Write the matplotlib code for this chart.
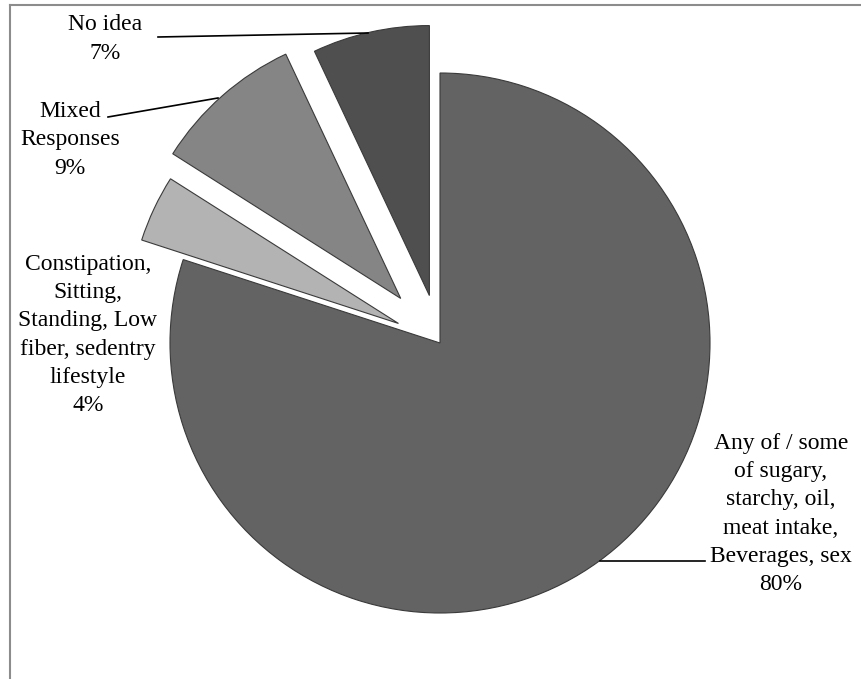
import matplotlib.pyplot as plt
from matplotlib.lines import Line2D

# data
labels = [
    "Any of / some\nof sugary,\nstarchy, oil,\nmeat intake,\nBeverages, sex\n80%",
    "Constipation,\nSitting,\nStanding, Low\nfiber, sedentry\nlifestyle\n4%",
    "Mixed\nResponses\n9%",
    "No idea\n7%",
]
shares = [80, 4, 9, 7]
colors = ['#636363', '#b3b3b3', '#858585', '#4f4f4f']
explode = [0, 0.17, 0.22, 0.18]

plt.rcParams['font.family'] = ['Liberation Serif', 'DejaVu Serif']

W, H = 861, 679
fig = plt.figure(figsize=(W / 100, H / 100), dpi=100)
ax = fig.add_axes([0, 0, 1, 1])

cx, cy, r = 440, H - 343, 270
# pie offsets explode in data units, so scale by the radius
ax.pie(shares, colors=colors, explode=[e * r for e in explode], startangle=90,
       counterclock=False, center=(cx, cy), radius=r, frame=True,
       wedgeprops=dict(edgecolor='#3a3a3a', linewidth=0.8))
ax.set_xlim(0, W)
ax.set_ylim(0, H)
ax.set_aspect('equal')
ax.axis('off')

# labels (pixel positions, y from top)
pos = [(781, 514), (88, 335), (70, 140), (105, 39)]
for lab, (x, y) in zip(labels, pos):
    ax.text(x, H - y, lab, ha='center', va='center', fontsize=17,
            linespacing=1.45, color='black')

# leader lines
leaders = [((600, 561), (705, 561)), ((108, 117), (218, 98)), ((158, 37), (368, 33))]
for (x0, y0), (x1, y1) in leaders:
    ax.plot([x0, x1], [H - y0, H - y1], color='black', lw=1.2)

# figure border (top and left)
fig.add_artist(Line2D([10 / W, 1], [1 - 5 / H, 1 - 5 / H], color='#8c8c8c', lw=1.5,
                      transform=fig.transFigure))
fig.add_artist(Line2D([10 / W, 10 / W], [0, 1 - 5 / H], color='#8c8c8c', lw=1.5,
                      transform=fig.transFigure))

fig.savefig('out.png', dpi=100)
